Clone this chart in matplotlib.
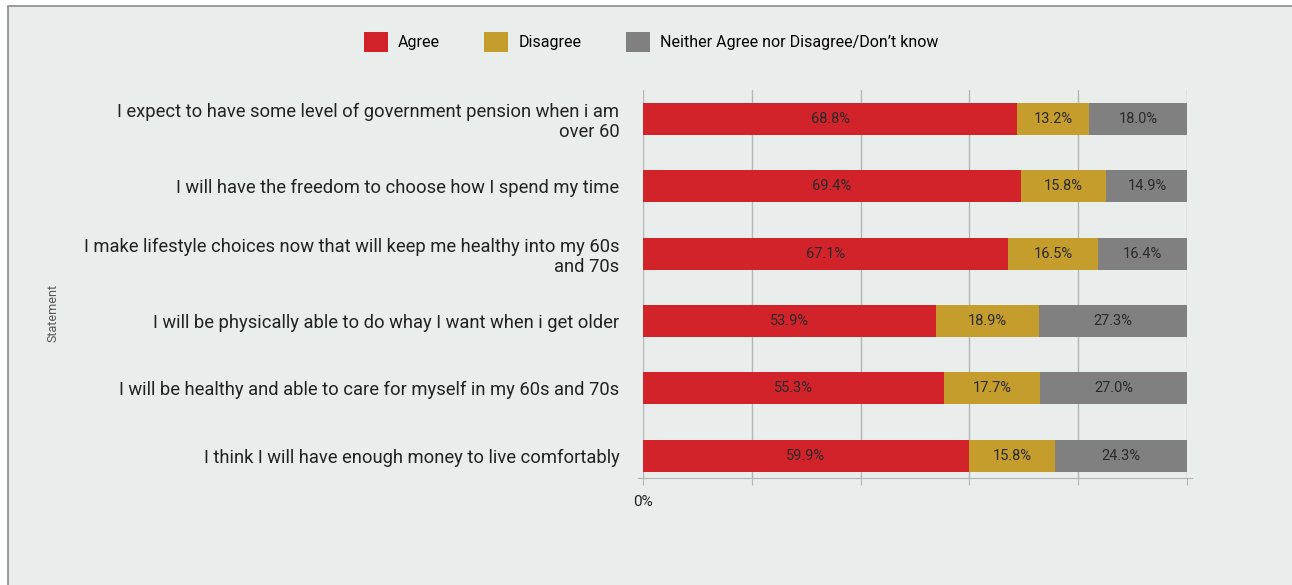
import matplotlib
matplotlib.use("Agg")
import matplotlib.pyplot as plt
from matplotlib.patches import Rectangle
import numpy as np

plt.rcParams["font.family"] = ["Roboto", "DejaVu Sans"]

statements = [
    "I expect to have some level of government pension when i am\nover 60",
    "I will have the freedom to choose how I spend my time",
    "I make lifestyle choices now that will keep me healthy into my 60s\nand 70s",
    "I will be physically able to do whay I want when i get older",
    "I will be healthy and able to care for myself in my 60s and 70s",
    "I think I will have enough money to live comfortably",
]
agree = [68.8, 69.4, 67.1, 53.9, 55.3, 59.9]
disagree = [13.2, 15.8, 16.5, 18.9, 17.7, 15.8]
neither = [18.0, 14.9, 16.4, 27.3, 27.0, 24.3]

series = ["Agree", "Disagree", "Neither Agree nor Disagree/Don\u2019t know"]
colors = ["#D2232A", "#C59D2C", "#808080"]
BG = "#E9EDEC"

W, H = 1292, 585
fig = plt.figure(figsize=(W / 100, H / 100), dpi=100, facecolor="white")

# panel background with thin border on left/top
fig.patches.append(Rectangle((8 / W, -0.05), 1.1, 1 - 6 / H + 0.05,
                             transform=fig.transFigure, facecolor=BG,
                             edgecolor="#8a8a8a", linewidth=1.2, zorder=-1))

ax = fig.add_axes([643 / W, 1 - 478 / H, (1187 - 643) / W, (478 - 90) / H])
ax.set_facecolor("none")

y = np.arange(len(statements))
left = np.zeros(len(statements))
for vals, col, name in zip([agree, disagree, neither], colors, series):
    vals = np.array(vals)
    ax.barh(y, vals, left=left, height=0.475, color=col, label=name, zorder=2)
    for yi, l, v in zip(y, left, vals):
        ax.text(l + v / 2, yi, f"{v:.1f}%", ha="center", va="center",
                fontsize=10.5, color="#2a2a2a", zorder=3)
    left += vals

ax.set_xlim(0, 100)
ax.set_ylim(5.33, -0.43)
ax.set_xticks([0, 20, 40, 60, 80, 100])
ax.set_xticklabels(["0%", "", "", "", "", ""])
ax.grid(axis="x", color="#b5b5b5", linewidth=1, zorder=1)
ax.set_yticks(y)
ax.set_yticklabels(statements, fontsize=13.2, color="#222222",
                   linespacing=1.15)
ax.tick_params(axis="y", length=0, pad=17)
ax.tick_params(axis="x", length=5, color="#b5b5b5", labelsize=11,
               labelcolor="#222222", pad=7)
for s in ["top", "right", "left"]:
    ax.spines[s].set_visible(False)
ax.spines["bottom"].set_color("#b5b5b5")
ax.spines["bottom"].set_bounds(-1, 101)

fig.text(53 / W, 1 - 313 / H, "Statement", rotation=90, ha="center",
         va="center", fontsize=9, color="#555555")

handles, labels = ax.get_legend_handles_labels()
fig.legend(handles, labels, loc="center", bbox_to_anchor=(651 / W, 1 - 42 / H),
           ncol=3, frameon=False, fontsize=11.5, handlelength=1.5,
           handleheight=1.5, handletextpad=0.63, columnspacing=2.8)

fig.savefig("out.png", dpi=100, facecolor=fig.get_facecolor())
